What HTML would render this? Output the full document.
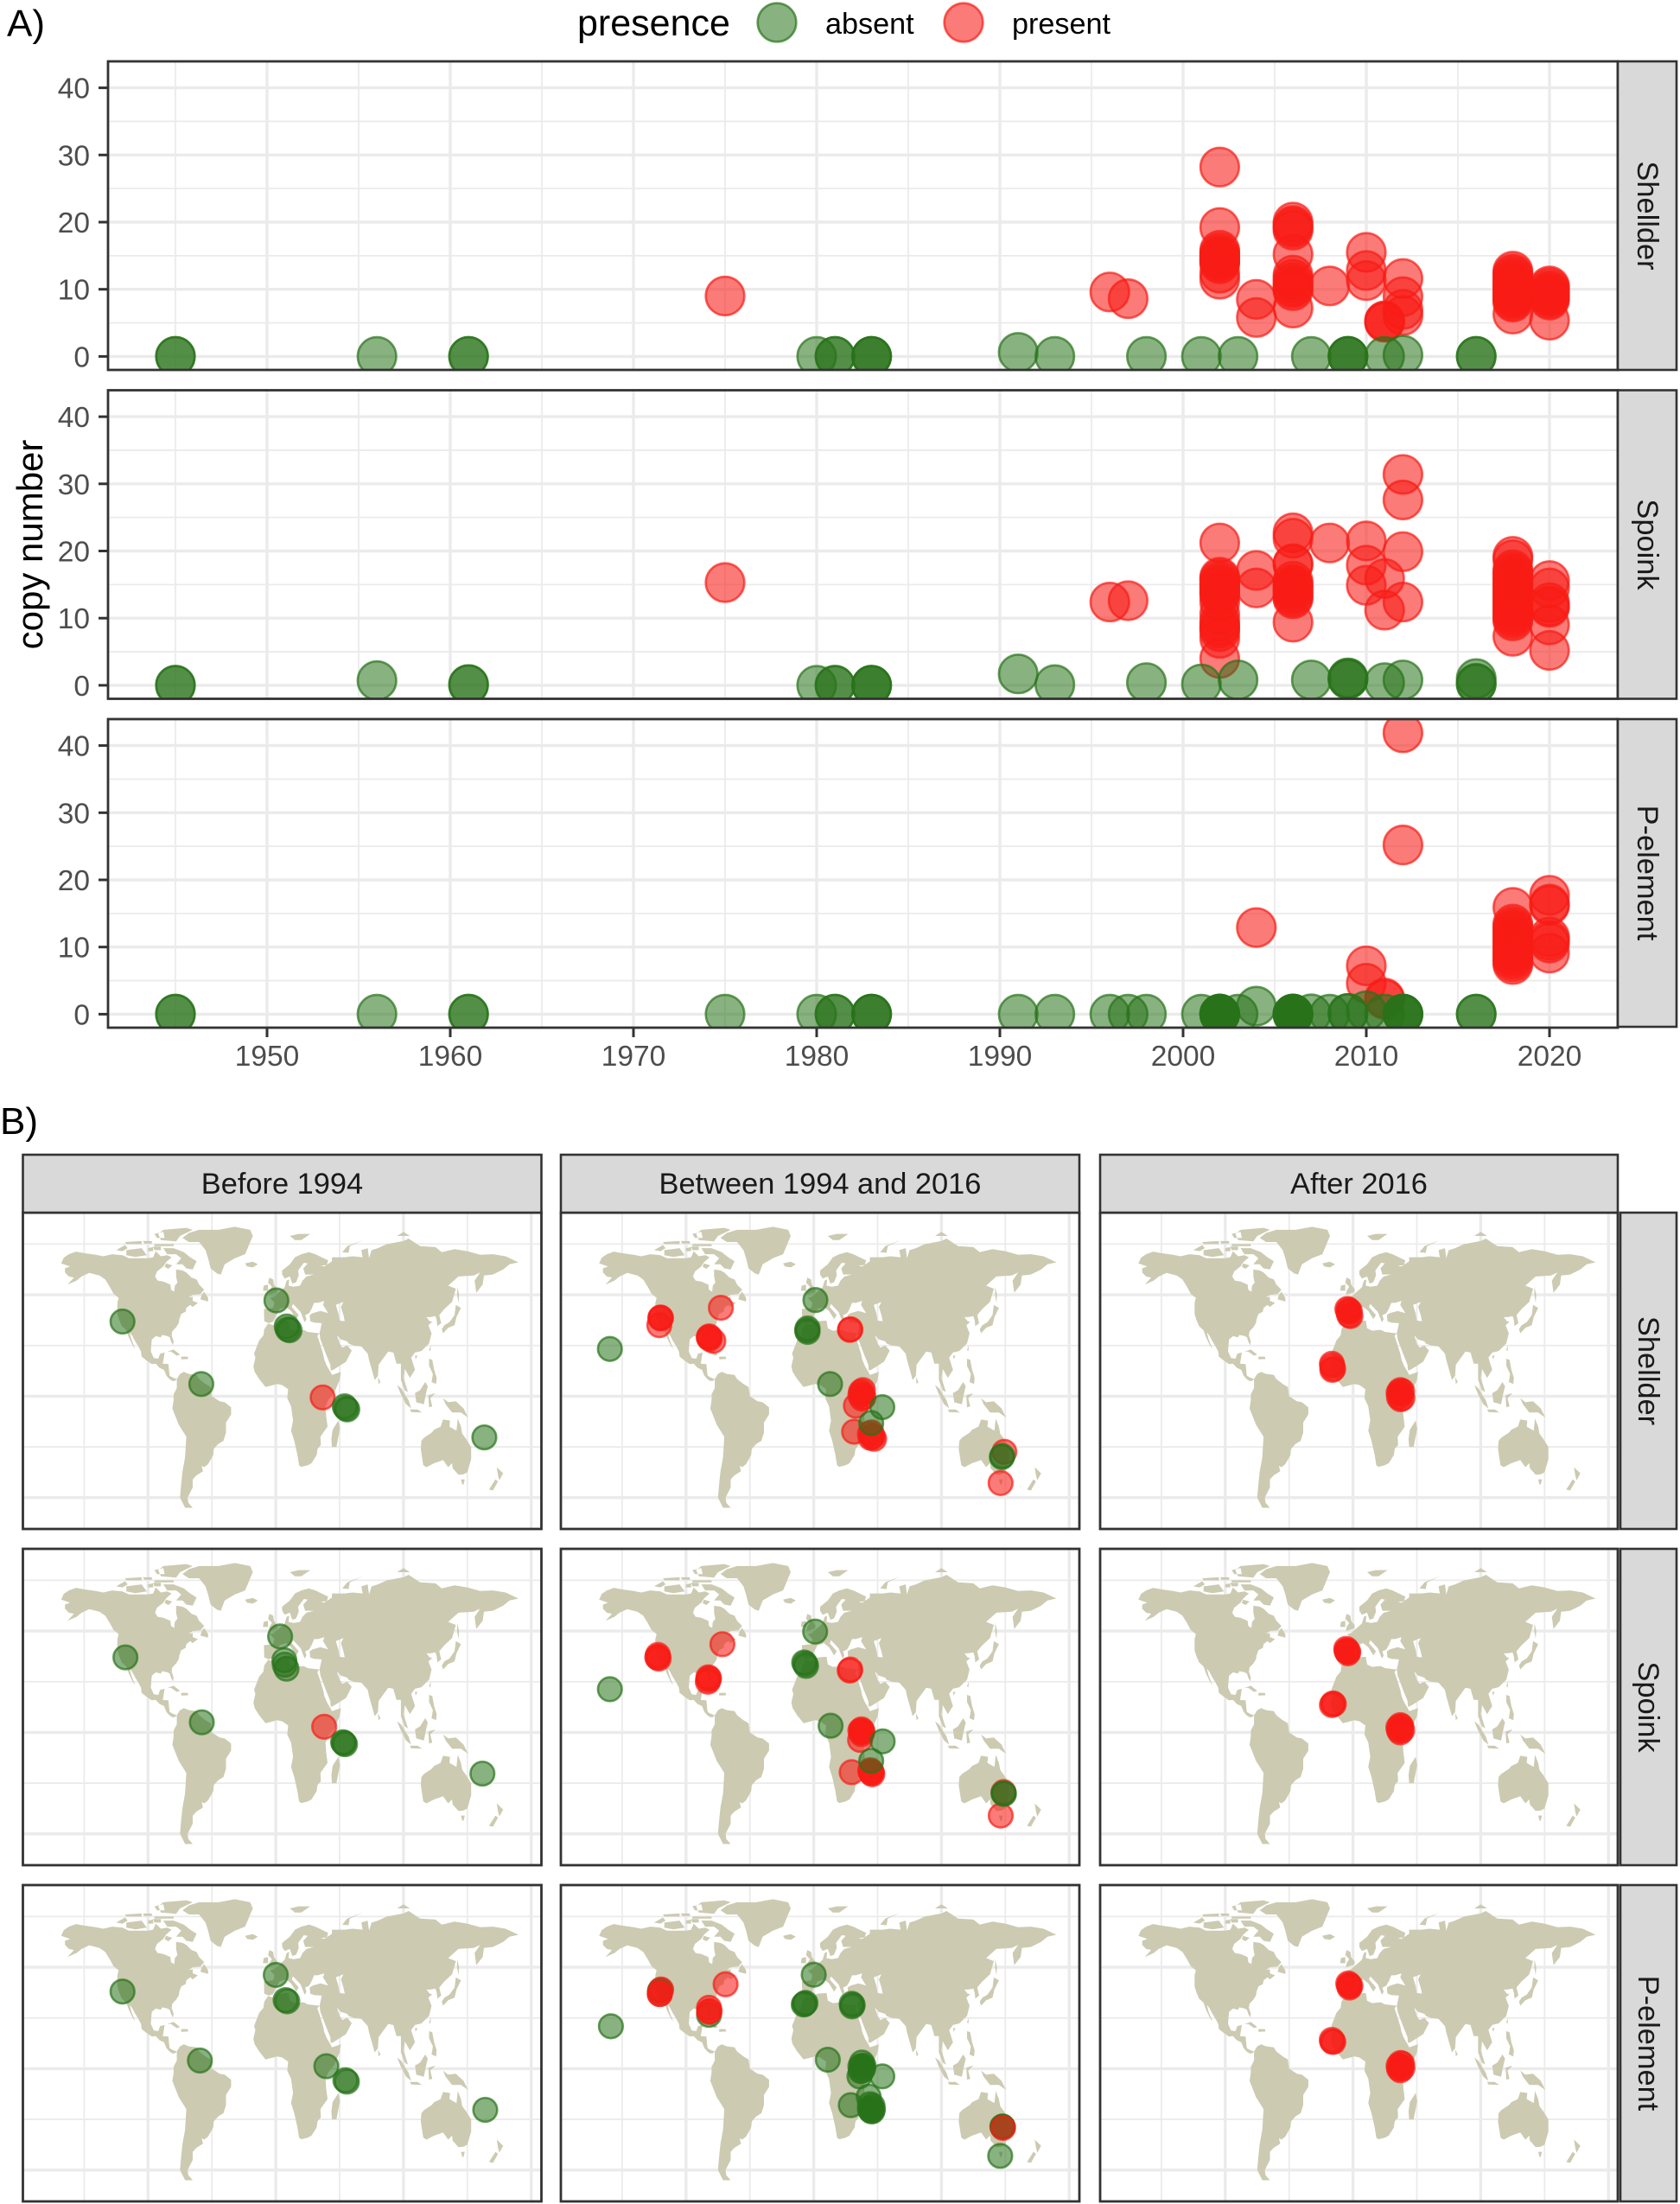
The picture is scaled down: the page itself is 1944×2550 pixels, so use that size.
<!DOCTYPE html>
<html lang="en">
<head>
<meta charset="utf-8">
<title>Copy number by year and location</title>
<style>
html,body{margin:0;padding:0;background:#fff;}
svg{display:block;font-family:"Liberation Sans",Arial,sans-serif;}
</style>
</head>
<body>
<svg id="fig" xmlns="http://www.w3.org/2000/svg" width="1944" height="2550" viewBox="0 0 1944 2550">
  <rect width="1944" height="2550" fill="#fff"/>
  <g id="plots"></g>

  <text x="8" y="42" font-size="44" fill="#000">A)</text>
  <text x="0" y="1312" font-size="44" fill="#000">B)</text>
  <text x="668" y="41" font-size="43" fill="#000">presence</text>
  <text x="955" y="39" font-size="34.2" fill="#000">absent</text>
  <text x="1171" y="39" font-size="34.2" fill="#000">present</text>
  <circle cx="899" cy="26" r="22.3" fill="rgb(40,115,25)" fill-opacity="0.55" stroke="rgb(40,115,25)" stroke-opacity="0.7" stroke-width="2.6"/>
  <circle cx="1115" cy="26" r="22.3" fill="rgb(248,28,22)" fill-opacity="0.58" stroke="rgb(248,28,22)" stroke-opacity="0.7" stroke-width="2.6"/>
  <text transform="translate(49,630) rotate(-90)" text-anchor="middle" font-size="42" fill="#000">copy number</text>

  <g fill="#d9d9d9" stroke="#333" stroke-width="2.6">
    <rect x="1872" y="71" width="68" height="357"/>
    <rect x="1872" y="451.5" width="68" height="357"/>
    <rect x="1872" y="832" width="68" height="356"/>
    <rect x="26.5" y="1336" width="600" height="67"/>
    <rect x="649" y="1336" width="600" height="67"/>
    <rect x="1273" y="1336" width="599" height="67"/>
    <rect x="1875" y="1403" width="65" height="366"/>
    <rect x="1875" y="1792" width="65" height="366"/>
    <rect x="1875" y="2181" width="65" height="366"/>
  </g>
  <g font-size="34.4" fill="#1a1a1a" text-anchor="middle">
    <text transform="translate(1895,249.5) rotate(90)">Shellder</text>
    <text transform="translate(1895,630) rotate(90)">Spoink</text>
    <text transform="translate(1895,1010) rotate(90)">P-element</text>
    <text x="326.5" y="1381">Before 1994</text>
    <text x="949" y="1381">Between 1994 and 2016</text>
    <text x="1572.5" y="1381">After 2016</text>
    <text transform="translate(1896,1586) rotate(90)">Shellder</text>
    <text transform="translate(1896,1975) rotate(90)">Spoink</text>
    <text transform="translate(1896,2364) rotate(90)">P-element</text>
  </g>
</svg>

<script>
/* ---------- tick labels ---------- */
const yearMajorTicks = [1950,1960,1970,1980,1990,2000,2010,2020];
const yearMinorTicks = [1945,1955,1965,1975,1985,1995,2005,2015];
const copyMajorTicks = [0,10,20,30,40];
const copyMinorTicks = [5,15,25,35];
const lonMajorTicks = [-100,0,100,200];
const lonMinorTicks = [-150,-50,50,150];
const latMajorTicks = [-50,0,50];
const latMinorTicks = [-25,25,75];

/* ---------- panel A: [year, copy number] ---------- */
const shellderAbsent = [[1945,0],[1945,0],[1956,0],[1961,0],[1961,0],[1980,0],[1981,0],[1981,0],[1983,0],[1983,0],[1983,0],[1991,0.6],[1993,0],[1998,0],[2001,0],[2003,0],[2007,0],[2009,0],[2009,0],[2009,0],[2011,0],[2012,0.2],[2016,0],[2016,0]];
const shellderPresent = [[1975,9],[1996,9.6],[1997,8.6],[2002,28.2],[2002,19.2],[2002,15.8],[2002,15.4],[2002,15],[2002,14.7],[2002,14.4],[2002,14.1],[2002,13.8],[2002,12.4],[2002,11.5],[2004,8.5],[2004,5.8],[2006,20],[2006,19.5],[2006,19.2],[2006,18.8],[2006,15.2],[2006,12.1],[2006,11.5],[2006,11],[2006,10.5],[2006,10.2],[2006,9.8],[2006,7.2],[2008,10.5],[2010,15.5],[2010,12.8],[2010,11.3],[2011,5.3],[2011,5.2],[2011,5.1],[2012,11.6],[2012,8.9],[2012,7],[2012,6.1],[2018,12.7],[2018,12.3],[2018,12],[2018,11.6],[2018,11.2],[2018,10.9],[2018,10.5],[2018,10.2],[2018,9.9],[2018,9.6],[2018,9.3],[2018,9],[2018,8.7],[2018,8.4],[2018,8.1],[2018,6.3],[2020,10.5],[2020,10.2],[2020,9.8],[2020,9.5],[2020,9.2],[2020,9],[2020,8.7],[2020,8.4],[2020,5.4]];
const spoinkAbsent = [[1945,0],[1945,0],[1956,0.7],[1961,0.1],[1961,0.1],[1980,0],[1981,0],[1981,0],[1983,0],[1983,0],[1983,0],[1991,1.7],[1993,0.1],[1998,0.4],[2001,0.2],[2003,0.8],[2007,0.8],[2009,1.1],[2009,0.9],[2009,1],[2011,0.4],[2012,0.8],[2016,1],[2016,0.3],[2016,0.2]];
const spoinkPresent = [[1975,15.3],[1996,12.4],[1997,12.6],[2002,21.2],[2002,16.1],[2002,15.8],[2002,15.4],[2002,15],[2002,14.6],[2002,14.2],[2002,13.8],[2002,13.4],[2002,12.4],[2002,10.6],[2002,9.5],[2002,8.9],[2002,8.5],[2002,8],[2002,7],[2002,4],[2004,17.1],[2004,14.5],[2006,22.7],[2006,21.9],[2006,18.1],[2006,18],[2006,15.5],[2006,15],[2006,14.7],[2006,14.4],[2006,14],[2006,13.6],[2006,13.2],[2006,12.9],[2006,9.4],[2008,21.2],[2010,21.5],[2010,17.9],[2010,14.9],[2011,15.9],[2011,11.2],[2012,31.4],[2012,27.6],[2012,19.9],[2012,12.4],[2018,19.2],[2018,18.7],[2018,17.2],[2018,16.8],[2018,16.4],[2018,16],[2018,15.6],[2018,15.2],[2018,14.8],[2018,14.4],[2018,14],[2018,13.6],[2018,13.2],[2018,12.8],[2018,12.4],[2018,12],[2018,11.6],[2018,11.2],[2018,10.8],[2018,10.4],[2018,10],[2018,9.6],[2018,7.3],[2020,15.6],[2020,14.5],[2020,12.3],[2020,11.8],[2020,11.6],[2020,9],[2020,5.2]];
const pelementAbsent = [[1945,0],[1945,0],[1956,0],[1961,0],[1961,0],[1975,0],[1980,0],[1981,0],[1981,0],[1983,0],[1983,0],[1983,0],[1991,0],[1993,0],[1996,0],[1997,0],[1998,0],[2001,0],[2002,0],[2002,0],[2002,0],[2002,0],[2002,0],[2002,0],[2002,0],[2003,0],[2004,1.2],[2006,0],[2006,0],[2006,0],[2006,0],[2006,0],[2006,0],[2006,0],[2007,0.05],[2008,0],[2009,0.1],[2009,0.1],[2010,0.5],[2011,0],[2012,0],[2012,0],[2012,0],[2012,0],[2016,0],[2016,0]];
const pelementPresent = [[2004,12.9],[2010,7.2],[2010,4.6],[2011,2.4],[2011,2.2],[2012,41.9],[2012,25.2],[2018,15.9],[2018,13.4],[2018,13],[2018,12.6],[2018,12.2],[2018,11.8],[2018,11.4],[2018,11],[2018,10.6],[2018,10.2],[2018,9.8],[2018,9.4],[2018,9],[2018,8.6],[2018,8.2],[2018,7.8],[2018,7.4],[2020,17.7],[2020,16.4],[2020,16.2],[2020,11.5],[2020,11],[2020,10.6],[2020,9.1]];

/* ---------- panel B: [longitude, latitude] ---------- */
const beforeShellderAbsent = [[-120,36.8],[0.5,47.2],[8.6,34.4],[10.8,32.5],[9.4,33],[-58.3,6],[54,-5],[55,-6],[56,-6.5],[163.3,-20.3]];
const beforeShellderPresent = [[36.7,-0.6]];
const betweenShellderAbsent = [[-159.6,23.3],[1.3,47.4],[-4.8,31.7],[-4.8,33.4],[-5.2,32.5],[12.8,6],[53.7,-5.4],[45,-13.2],[147.3,-30],[147.6,-29.5]];
const betweenShellderPresent = [[-120,38.8],[-120,38.4],[-119.6,38.6],[-120.9,35],[-72.7,43.6],[-81.8,29],[-81.8,29.5],[-82.2,29],[-81.5,28.3],[-78.6,27.3],[28.3,32.7],[28.7,33],[37.7,1.2],[38.5,3],[36.5,0.5],[39,-0.5],[37,2.2],[37.7,-1.2],[33,-4.7],[31.6,-17.5],[45.7,-19.6],[44,-18.5],[45.2,-17.8],[47.3,-21],[46,-20],[44.5,-20.5],[149.2,-27.4],[146.3,-42.8]];
const afterShellderAbsent = [];
const afterShellderPresent = [[-3.5,41.5],[-4.4,43],[-3,40],[-2,39.5],[-2.5,42],[-3.5,42.5],[-16.2,14.9],[-15.5,13.5],[-16.5,16],[-16.2,13],[37.2,1],[35.7,1.7],[38.7,-1],[37,3],[36,-0.5],[38.5,2.5],[37.2,-1.5],[36.5,2]];
const beforeSpoinkAbsent = [[-117.7,37],[3.4,47.3],[6.7,35.6],[8.4,31.4],[7,33.4],[-57.9,5],[52.7,-4.8],[53.4,-5.3],[54.2,-5.8],[161.8,-20.3]];
const beforeSpoinkPresent = [[37.9,2.8]];
const betweenSpoinkAbsent = [[-159.6,21.3],[1.1,49.7],[-6.6,33.8],[-6,32.8],[-7.5,34.5],[13.2,3.3],[54,-4.4],[45,-14],[148.6,-30],[148.9,-30.3]];
const betweenSpoinkPresent = [[-122,37.2],[-122,38.2],[-122.5,37],[-121.4,36.4],[-71.5,43.5],[-82.5,26],[-82.5,27.2],[-82.9,25],[-82,26.6],[28.6,31],[28.2,30.5],[37.4,0.5],[37.4,1.5],[37.4,-0.8],[38.2,0.6],[36.5,0.9],[37.7,0.2],[36.3,-3.7],[29.7,-19.6],[45,-19.6],[44.3,-18.6],[45.8,-20.6],[45,-20],[44.5,-19.3],[45.5,-19.6],[148.6,-29.4],[146.4,-41]];
const afterSpoinkAbsent = [];
const afterSpoinkPresent = [[-4.7,40],[-5.3,41.2],[-4,39],[-4.8,40.3],[-3.7,39.8],[-4.7,40],[-15.7,14.3],[-15,14],[-16.5,13.5],[37,1.9],[35.5,2.5],[38.5,1],[37,3.6],[36,1],[37.8,3],[37,0],[37,2]];
const beforePelementAbsent = [[-120,38],[0,46.2],[7.7,33.8],[9,33.2],[-59.4,4],[39.6,1.2],[54.5,-5.7],[55.7,-6.4],[164,-20.3]];
const beforePelementPresent = [];
const betweenPelementAbsent = [[-158.8,20.9],[-120,38.7],[-120.5,38],[-82,26.5],[0,46.3],[-7.2,32],[-6.5,32.4],[-7.8,31.6],[30.5,31.4],[29.7,32],[30,30.7],[11,4.4],[37.7,3],[37.7,1],[37.7,-1],[36.5,1.1],[39,1.5],[38.7,0],[36.8,-1.2],[35.8,-3.8],[53.7,-3.8],[43,-13.8],[29,-18],[45,-19.2],[44,-17.5],[46.3,-20],[44,-19.8],[46,-18.2],[45,-21],[44.3,-20.4],[45.9,-21],[148,-28.7],[148,-28.7],[147.7,-28.5],[146,-43]];
const betweenPelementPresent = [[-119.5,39],[-120.5,36.8],[-120.5,36.8],[-69,41.6],[-82,28],[-82,30],[-81.5,28.4],[148.2,-29.2]];
const afterPelementAbsent = [];
const afterPelementPresent = [[-3,41],[-3.7,42],[-2.7,40],[-3,41.2],[-2,40.8],[-16.2,13.3],[-15.4,13.2],[-16.6,14.2],[37.2,1],[35.7,1.5],[38.7,0.2],[37.2,2.8],[36,0],[38.5,2.4],[37.2,-0.8],[37,1.2]];

/* ---------- world coastline outlines: [lon, lat] ---------- */
const landPolygons = [
 [[-168,65.5],[-166,68.3],[-162,70],[-156.5,71.3],[-150,70.5],[-141,69.7],[-135,69],[-128,70],[-120,69.5],[-115,68],[-108,68],[-100,68],[-96,68.5],[-94,71.5],[-90,69],[-85,69.5],[-81.5,68.5],[-86,66],[-88,64],[-93,61.5],[-94.5,59],[-92.5,57],[-88,56.5],[-82.5,55],[-82,52.5],[-79.5,51.5],[-79,54.5],[-77,56],[-78,59],[-78,62.5],[-73,62],[-70,61],[-66,58.5],[-62,57.5],[-60,55],[-56,52.5],[-59,50.3],[-65,50],[-68,48.7],[-65,49],[-65,47],[-61,46],[-65,44],[-67,45],[-70,43.5],[-70.5,41.7],[-74,40.5],[-75.5,38],[-76,36],[-78,34],[-81,32],[-81.5,30],[-80,27],[-80.5,25.2],[-82,27],[-83,29],[-85,29.7],[-89,30.2],[-90,29],[-94,29.6],[-97,28],[-97.5,25],[-97.8,22],[-95.5,18.8],[-92,18.5],[-90.5,21],[-87,21.5],[-88,17.5],[-88.5,16],[-84,15.8],[-83.5,12],[-83,10],[-80,9],[-77.5,8.5],[-79,7.5],[-81,7.5],[-83,8.3],[-85.5,10],[-87.5,13],[-91,14],[-94,16],[-97,15.8],[-101,17.5],[-105,19.5],[-105.5,22],[-108,25],[-110,27],[-112.5,30],[-114.5,31.5],[-113,28],[-110,23.2],[-112,25],[-115,29],[-117,32.5],[-120.5,34.5],[-122.5,37.5],[-124,40.5],[-124,46],[-123,48.5],[-127,50.5],[-130,54],[-133.5,57.5],[-138,59.5],[-146,60.8],[-152,59],[-156,57],[-163,55],[-158,58.5],[-162,59],[-165,61],[-165,63],[-161,64]],
 [[-73,78],[-68,76],[-60,76],[-55,72],[-53,68],[-51,63],[-46,60.5],[-43,60],[-40,65],[-32,68],[-24,70],[-22,73],[-20,76],[-18,79],[-20,82],[-32,83.5],[-45,82],[-60,82],[-68,80.5]],
 [[-80,73],[-72,71],[-67,68.5],[-62,66.5],[-65,62.5],[-70,63],[-73,65],[-78,65],[-74,68],[-78,70],[-85,70],[-88,73]],
 [[-117,72],[-105,73],[-101,69.5],[-110,68.7],[-117,69.5]],
 [[-90,77],[-78,76.3],[-75,79],[-65,82],[-70,83],[-88,82],[-92,80]],
 [[-125,72],[-118,74.5],[-116,73],[-120,71.5]],
 [[-95,75],[-80,75],[-80,74],[-95,74]],
 [[-118,76],[-105,76.5],[-105,75],[-117,75]],
 [[-100,73],[-96,73.5],[-96,71.5],[-100,71.5]],
 [[-95,80],[-88,81],[-87,78],[-93,78]],
 [[-104,76.5],[-97,76.5],[-97,75.3],[-103,75.3]],
 [[-96,73.8],[-90,73.8],[-90,72],[-95,72]],
 [[-86,65.5],[-81,64.5],[-84,62.8],[-87,63.8]],
 [[-59,47.7],[-53,46.7],[-53,48.5],[-56,51.5],[-58,50]],
 [[-85,22],[-80,23],[-75,20.5],[-77.5,20],[-82,22]],
 [[-74,19.5],[-69,19.5],[-68.5,18.3],[-74,18.2]],
 [[-77.5,8.5],[-75,11],[-72,12],[-68,11],[-62,10.5],[-60,8.5],[-55,6],[-51,4.5],[-50,0],[-44,-2.5],[-40,-3],[-35,-5.5],[-35,-9],[-39,-13],[-39,-18],[-41,-22],[-45,-23.5],[-48.5,-26],[-49,-29],[-53,-33.5],[-56,-35],[-58,-34.3],[-57,-37],[-62,-39],[-65,-41],[-65,-45],[-69,-50],[-68.5,-52.5],[-65,-55],[-71,-55],[-75,-50],[-74,-43],[-73,-37],[-71,-30],[-70,-20],[-76,-14],[-81,-6],[-80,-2],[-80,1],[-77.5,4]],
 [[-6,35.8],[-2,35],[3,37],[10,37.3],[11,33.5],[15,32.3],[20,32.7],[22,32.7],[25,31.7],[32,31.2],[34.3,31],[32.5,29.8],[34,27],[37,21],[38,18],[40,15],[43,11.7],[44,10.5],[51,12],[50,8],[46,2],[41,-2],[39,-5],[39.5,-10],[40.5,-15],[35,-20],[35.3,-24],[32.7,-26],[32,-29],[28,-33],[25,-34],[20,-34.8],[18.3,-34],[17,-29],[14.5,-22],[12,-17],[13.5,-12],[12,-5],[9,-1],[9.7,3.5],[5,5.5],[1,6],[-4,5.2],[-8,4.5],[-13,8.5],[-16.5,12],[-17.5,14.7],[-16,19],[-17,21],[-13,27.5],[-9.7,30],[-9,33]],
 [[49,-12],[50.3,-16],[47.5,-25],[44,-25],[43.5,-21],[44.5,-16.5]],
 [[-9,37],[-9.3,43],[-2,43.5],[-1,46],[-4.5,48.5],[-1.5,49],[2,51],[4,52],[7,53.7],[8.5,57],[10.5,57.5],[10,54.5],[14,54],[19,54.5],[21,57],[24,59],[30,60],[23,60],[21.5,63],[25,65.5],[22,65.8],[17.5,62],[18,59.5],[16,56.2],[13,55.5],[11,59],[7,58],[5,60],[5,62],[11,65],[15,68.5],[20,70],[26,71],[31,70],[41,67],[40,64.7],[35,64.3],[38,64],[44,66.5],[44,68.5],[54,68.5],[60,69],[68,68.5],[67,72],[72,73],[73,68],[75,72],[80,73],[87,75],[100,76.5],[104,77.7],[113,74],[125,73.5],[130,71],[140,72.5],[150,71.5],[160,69.7],[170,70],[180,69],[190,66],[183,65],[178,62.5],[170,60],[163,59.5],[162,55],[157,51],[155.7,57],[160,61],[155,59.5],[143,59],[135,54.5],[141,53],[138,46.5],[132,43],[128,40],[129.5,36],[126.5,34.5],[126,37.5],[125,39.5],[121,39],[118,39],[120.5,37],[122.5,36.7],[119.5,35],[122,31],[120,26],[114,22.3],[109,21.5],[106,19],[109,13],[105,9],[101,13.5],[100,9],[103.5,2],[101,3],[98,8],[98,16],[94.5,16],[92,21.5],[88,22],[80.5,15.5],[80,10],[77.5,8],[73,18],[72,21],[67,24.5],[61,25],[57,26],[56,27],[51,28],[48,30],[50,26],[52,24],[56,25],[59.5,22.5],[55,17],[45,13],[43,12.7],[42.7,15.5],[39.2,21],[35,28],[34.3,31],[36,36],[30,36.3],[27,37],[26.5,40],[29,41],[35,42],[41,41],[37,45],[38,47],[33,46],[30,46],[28,43],[26,40.8],[23,40],[24,37.8],[22.5,36.5],[19.5,41.5],[13.5,45.5],[12.5,44],[18,40],[16,38],[12,42],[8,44],[3,43],[0,39.5],[-2,36.8],[-5.5,36]],
 [[47,45],[53,46.5],[51,44],[53,40],[54,37],[50,37.3],[49,41]],
 [[-5.5,50],[1,51.3],[1.5,52.7],[-1.5,55],[-2,57.5],[-5,58.5],[-6,56],[-3,54],[-5,52]],
 [[-10,52],[-6,52],[-6,55],[-9.5,54.5]],
 [[-24,65.5],[-18,66.3],[-14,65],[-18,63.5],[-22.5,64]],
 [[11,79],[18,80],[27,80],[20,77],[15,77]],
 [[52,71],[56,74],[68,77],[58,74],[57,70.7]],
 [[95,79],[105,79],[100,81]],
 [[142,54],[143.5,50],[143,46],[142,50]],
 [[130,33],[132,35],[136,36.5],[140,40],[141,45],[145,43.5],[141.5,39],[140,35],[135,33.7],[131,31]],
 [[120,23],[121.5,25],[121,22]],
 [[109,20],[111,20],[109.5,18.2]],
 [[80,9.5],[82,7],[80.5,6]],
 [[120,18.5],[122.5,18],[124,13],[126,9],[125.5,6],[122,7],[123,11],[120,15]],
 [[109,1.5],[113,3],[117,7],[119,5],[117.5,1],[116,-4],[110,-3]],
 [[95,5.5],[98,4],[104,-2],[106,-6],[102,-4],[98,1]],
 [[105,-6.5],[111,-6.5],[114.5,-8],[106,-7.8]],
 [[119.5,0.5],[125,1.5],[121,-1],[122.5,-5],[120,-5.5]],
 [[131,-1],[135,-3],[141,-2.5],[147,-6],[150.5,-10.5],[145,-8],[138,-8],[133,-4]],
 [[114,-22],[113.5,-26],[115.5,-34],[118,-35],[124,-33],[131,-31.5],[135,-35],[138,-33],[138.5,-35.5],[143,-38.7],[147,-38.5],[150,-37.5],[153,-31],[153,-25],[149,-21],[146,-18.5],[145,-15],[142.5,-11],[141.5,-17],[136,-15],[136.5,-12],[131,-11.5],[129,-15],[124,-16.5],[122,-18],[116,-20.5]],
 [[145,-41],[148,-41],[147,-43.5],[146,-43.5]],
 [[173,-35],[178,-38],[175,-41.5],[174,-39]],
 [[172,-41],[174,-42],[170,-46.5],[167,-46]]
];

/* ---------- axis functions ---------- */
function xYear(year){ return 521 + 21.2 * (year - 1960); }
function yCopy(value, panelTop){ return panelTop + 341.4 - 7.77 * value; }
function xLon(lon, panelLeft){ return panelLeft + 292.6 + 1.478 * lon; }
function yLat(lat, panelTop){ return panelTop + 212.4 - 2.347 * lat; }

const NS = 'http://www.w3.org/2000/svg';
const root = document.getElementById('plots');
const GREEN = 'rgb(40,115,25)';
const RED = 'rgb(248,28,22)';
let clipCount = 0;

function make(tag, attrs, parent){
  const el = document.createElementNS(NS, tag);
  for (const k in attrs) el.setAttribute(k, attrs[k]);
  (parent || root).appendChild(el);
  return el;
}

function panelFrame(left, top, width, height, name){
  const g = make('g', {});
  
  
  const bg = make('rect', {x:left, y:top, width:width, height:height, fill:'#fff'}, g);
  
  
  clipCount += 1;
  const cp = make('clipPath', {id:'clip' + clipCount}, g);
  make('rect', {x:left, y:top, width:width, height:height}, cp);
  const inner = make('g', {'clip-path':'url(#clip' + clipCount + ')'}, g);
  return {outer:g, inner:inner};
}

function gridLine(parent, x1, y1, x2, y2, major){
  const line = make('line', {x1:x1, y1:y1, x2:x2, y2:y2, stroke:'#ebebeb', 'stroke-width': major ? 3.4 : 1.8}, parent);
  
  
}

function border(parent, left, top, width, height){
  const b = make('rect', {x:left, y:top, width:width, height:height, fill:'none', stroke:'#333', 'stroke-width':2.8}, parent);
  
  
}

function dot(parent, cx, cy, r, present, name){
  const color = present ? RED : GREEN;
  const c = make('circle', {cx:cx, cy:cy, r:r, fill:color, 'fill-opacity': present ? 0.58 : 0.55, stroke:color, 'stroke-opacity':0.7, 'stroke-width':2.6}, parent);
  
  
}

/* ---------- panel A ---------- */
const scatterLeft = 125, scatterWidth = 1747, scatterHeight = 357;
const scatterPanels = [
  {key:'shellder', top:71, absent:shellderAbsent, present:shellderPresent},
  {key:'spoink', top:451.5, absent:spoinkAbsent, present:spoinkPresent},
  {key:'p-element', top:832, absent:pelementAbsent, present:pelementPresent}
];
scatterPanels.forEach(function(p){
  const f = panelFrame(scatterLeft, p.top, scatterWidth, scatterHeight, 'scatter-panel-' + p.key);
  copyMinorTicks.forEach(function(v){ gridLine(f.inner, scatterLeft, yCopy(v,p.top), scatterLeft+scatterWidth, yCopy(v,p.top), false); });
  yearMinorTicks.forEach(function(y){ gridLine(f.inner, xYear(y), p.top, xYear(y), p.top+scatterHeight, false); });
  copyMajorTicks.forEach(function(v){ gridLine(f.inner, scatterLeft, yCopy(v,p.top), scatterLeft+scatterWidth, yCopy(v,p.top), true); });
  yearMajorTicks.forEach(function(y){ gridLine(f.inner, xYear(y), p.top, xYear(y), p.top+scatterHeight, true); });
  p.present.forEach(function(d){ dot(f.inner, xYear(d[0]), yCopy(d[1],p.top), 22.3, true, 'point-present'); });
  p.absent.forEach(function(d){ dot(f.inner, xYear(d[0]), yCopy(d[1],p.top), 22.3, false, 'point-absent'); });
  border(f.outer, scatterLeft, p.top, scatterWidth, scatterHeight);
  copyMajorTicks.forEach(function(v){
    const yy = yCopy(v,p.top);
    const t = make('line', {x1:scatterLeft-11, x2:scatterLeft, y1:yy, y2:yy, stroke:'#333', 'stroke-width':3}, f.outer);
    
    
    const l = make('text', {x:scatterLeft-21, y:yy+12, 'font-size':33.5, fill:'#4d4d4d', 'text-anchor':'end'}, f.outer);
    l.textContent = String(v);
    
    
  });
});
yearMajorTicks.forEach(function(y){
  const bottom = 832 + scatterHeight;
  const t = make('line', {x1:xYear(y), x2:xYear(y), y1:bottom, y2:bottom+11, stroke:'#333', 'stroke-width':3});
  
  
  const l = make('text', {x:xYear(y), y:1233, 'font-size':33.5, fill:'#4d4d4d', 'text-anchor':'middle'});
  l.textContent = String(y);
  
  
});

/* ---------- panel B ---------- */
function landPath(left, top){
  return landPolygons.map(function(poly){
    return 'M' + poly.map(function(pt){ return xLon(pt[0],left).toFixed(1) + ' ' + yLat(pt[1],top).toFixed(1); }).join('L') + 'Z';
  }).join('');
}
const mapColumns = [{left:26.5, width:600}, {left:649, width:600}, {left:1273, width:599}];
const mapRows = [1403, 1792, 2181];
const mapHeight = 366;
const mapPanels = [
  {col:0, row:0, absent:beforeShellderAbsent, present:beforeShellderPresent, greenFirst:false},
  {col:1, row:0, absent:betweenShellderAbsent, present:betweenShellderPresent, greenFirst:false},
  {col:2, row:0, absent:afterShellderAbsent, present:afterShellderPresent, greenFirst:false},
  {col:0, row:1, absent:beforeSpoinkAbsent, present:beforeSpoinkPresent, greenFirst:false},
  {col:1, row:1, absent:betweenSpoinkAbsent, present:betweenSpoinkPresent, greenFirst:false},
  {col:2, row:1, absent:afterSpoinkAbsent, present:afterSpoinkPresent, greenFirst:false},
  {col:0, row:2, absent:beforePelementAbsent, present:beforePelementPresent, greenFirst:false},
  {col:1, row:2, absent:betweenPelementAbsent, present:betweenPelementPresent, greenFirst:true},
  {col:2, row:2, absent:afterPelementAbsent, present:afterPelementPresent, greenFirst:false}
];
mapPanels.forEach(function(m, idx){
  const left = mapColumns[m.col].left, width = mapColumns[m.col].width, top = mapRows[m.row];
  const f = panelFrame(left, top, width, mapHeight, 'map-panel-' + (idx + 1));
  lonMinorTicks.forEach(function(v){ gridLine(f.inner, xLon(v,left), top, xLon(v,left), top+mapHeight, false); });
  latMinorTicks.forEach(function(v){ gridLine(f.inner, left, yLat(v,top), left+width, yLat(v,top), false); });
  lonMajorTicks.forEach(function(v){ gridLine(f.inner, xLon(v,left), top, xLon(v,left), top+mapHeight, true); });
  latMajorTicks.forEach(function(v){ gridLine(f.inner, left, yLat(v,top), left+width, yLat(v,top), true); });
  const land = make('path', {d:landPath(left, top), fill:'#cccab1', 'fill-rule':'evenodd'}, f.inner);
  
  
  function drawAbsent(){ m.absent.forEach(function(d){ dot(f.inner, xLon(d[0],left), yLat(d[1],top), 13.8, false, 'map-point-absent'); }); }
  function drawPresent(){ m.present.forEach(function(d){ dot(f.inner, xLon(d[0],left), yLat(d[1],top), 13.8, true, 'map-point-present'); }); }
  if (m.greenFirst) { drawAbsent(); drawPresent(); } else { drawPresent(); drawAbsent(); }
  border(f.outer, left, top, width, mapHeight);
});
</script>
</body>
</html>
